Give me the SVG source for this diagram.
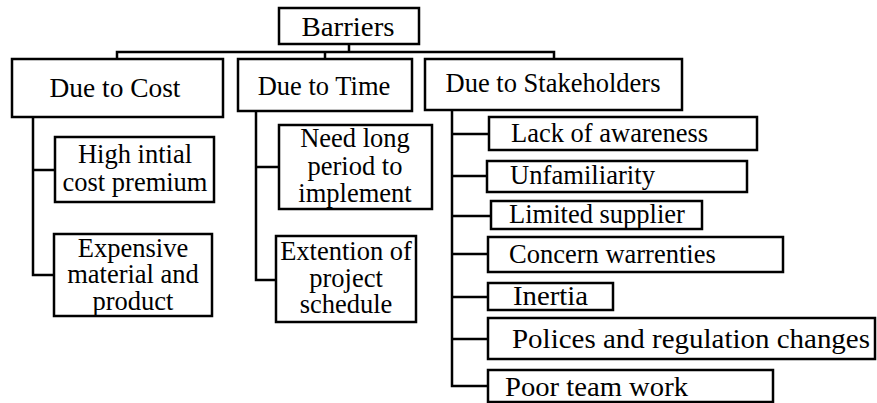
<svg xmlns="http://www.w3.org/2000/svg" width="877" height="403" viewBox="0 0 877 403">
  <style>
    .box { fill: #fff; stroke: #000; stroke-width: 2.5; }
    .wire { fill: none; stroke: #000; stroke-width: 2.5; }
    text { font-family: 'Liberation Serif', 'Times New Roman', Times, 'DejaVu Serif', serif; font-size: 26.5px; fill: #000; }
    .c { text-anchor: middle; }
  </style>
  <rect width="877" height="403" fill="#fff"/>

  <!-- connectors -->
  <g id="connectors" class="wire">
    <path d="M349 44 V52 M117 58 V52 H554 V59 M325 52 V59"/>
    <path d="M33 117 V275 H54 M33 170 H55"/>
    <path d="M256 111 V280 H276 M256 167 H279"/>
    <path d="M452 110 V386 H488 M452 134 H489 M452 176 H487 M452 216 H491 M452 254 H488 M452 297 H488 M452 339 H488"/>
  </g>

  <g id="barriers">
    <rect class="box" x="279" y="8" width="140" height="36"/>
    <text class="c" x="348" y="36" textLength="93" lengthAdjust="spacingAndGlyphs">Barriers</text>
  </g>

  <g id="due-cost">
    <rect class="box" x="12" y="59" width="211" height="58"/>
    <text class="c" x="115" y="97" textLength="131" lengthAdjust="spacingAndGlyphs">Due to Cost</text>
  </g>
  <g id="due-time">
    <rect class="box" x="238" y="59" width="174" height="52"/>
    <text class="c" x="324" y="95">Due to Time</text>
  </g>
  <g id="due-stakeholders">
    <rect class="box" x="425" y="59" width="257" height="51"/>
    <text class="c" x="553" y="92">Due to Stakeholders</text>
  </g>

  <g id="high-cost">
    <rect class="box" x="55" y="137" width="159" height="65"/>
    <text class="c" x="135" y="163">High intial</text>
    <text class="c" x="135" y="191">cost premium</text>
  </g>
  <g id="expensive">
    <rect class="box" x="54" y="234" width="158" height="82"/>
    <text class="c" x="133" y="257">Expensive</text>
    <text class="c" x="133" y="283">material and</text>
    <text class="c" x="133" y="310">product</text>
  </g>

  <g id="long-period">
    <rect class="box" x="279" y="125" width="153" height="84"/>
    <text class="c" x="355" y="147">Need long</text>
    <text class="c" x="355" y="175">period to</text>
    <text class="c" x="355" y="202">implement</text>
  </g>
  <g id="extension">
    <rect class="box" x="276" y="236" width="140" height="86"/>
    <text class="c" x="346" y="260">Extention of</text>
    <text class="c" x="346" y="287">project</text>
    <text class="c" x="346" y="313">schedule</text>
  </g>

  <g id="awareness">
    <rect class="box" x="489" y="117" width="268" height="33"/>
    <text x="511" y="142">Lack of awareness</text>
  </g>
  <g id="unfamiliarity">
    <rect class="box" x="487" y="161" width="260" height="31"/>
    <text x="510" y="184" textLength="145" lengthAdjust="spacingAndGlyphs">Unfamiliarity</text>
  </g>
  <g id="supplier">
    <rect class="box" x="491" y="201" width="211" height="28"/>
    <text x="509" y="223">Limited supplier</text>
  </g>
  <g id="warranties">
    <rect class="box" x="488" y="237" width="295" height="35"/>
    <text x="509" y="263">Concern warrenties</text>
  </g>
  <g id="inertia">
    <rect class="box" x="488" y="283" width="125" height="27"/>
    <text x="513" y="305" textLength="75" lengthAdjust="spacingAndGlyphs">Inertia</text>
  </g>
  <g id="policies">
    <rect class="box" x="488" y="318" width="387" height="41"/>
    <text x="512" y="348" textLength="358" lengthAdjust="spacingAndGlyphs">Polices and regulation changes</text>
  </g>
  <g id="teamwork">
    <rect class="box" x="488" y="370" width="285" height="32"/>
    <text x="505" y="396" textLength="183" lengthAdjust="spacingAndGlyphs">Poor team work</text>
  </g>
</svg>
